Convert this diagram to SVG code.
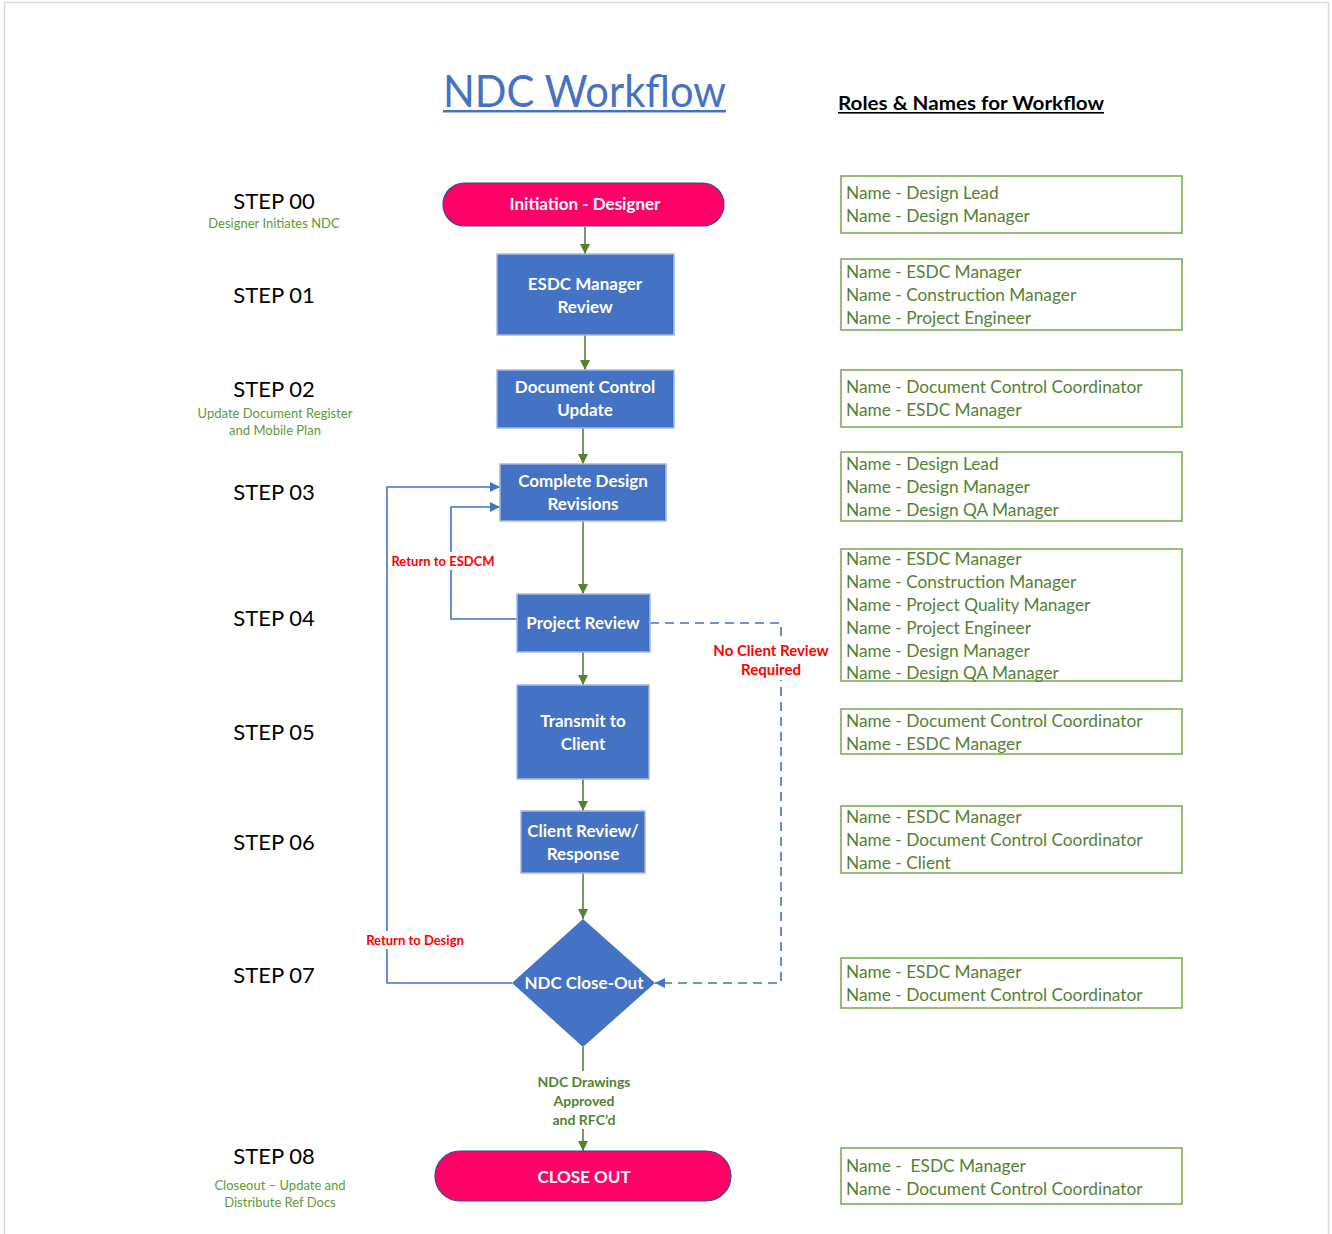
<svg xmlns="http://www.w3.org/2000/svg" width="1332" height="1234" viewBox="0 0 1332 1234">
  <style>
    text { font-family: Lato, "Open Sans", "Liberation Sans", sans-serif; }
    .step { font-size: 22px; fill: #000; text-anchor: middle; }
    .sub { font-size: 13px; fill: #5E9A3A; text-anchor: middle; }
    .proc { fill: #4472C4; stroke: #A4B8E0; stroke-width: 1.5; }
    .term { fill: #FF0066; stroke: #2F4F8F; stroke-width: 1.2; }
    .lbl { font-size: 17px; font-weight: bold; fill: #fff; text-anchor: middle; }
    .role { fill: #fff; stroke: #70AD47; stroke-width: 1.5; }
    .rtxt { font-size: 17.3px; fill: #548235; }
    .flow { fill: none; stroke: #548235; stroke-width: 1.6; }
    .loop { fill: none; stroke: #4472C4; stroke-width: 1.6; }
    .dash { fill: none; stroke: #4472C4; stroke-width: 1.6; stroke-dasharray: 9 6; }
    .red { font-size: 13px; font-weight: bold; fill: #FF0000; text-anchor: middle; }
    .red.big { font-size: 15px; }
    .grn { font-size: 14px; font-weight: bold; fill: #548235; text-anchor: middle; }
    .knock { fill: #fff; }
  </style>
  <defs>
    <marker id="ag" viewBox="0 0 10 10" refX="10" refY="5" markerWidth="10" markerHeight="10" markerUnits="userSpaceOnUse" orient="auto">
      <path d="M0,0 L10,5 L0,10 z" fill="#548235"/>
    </marker>
    <marker id="ab" viewBox="0 0 10 10" refX="10" refY="5" markerWidth="10" markerHeight="10" markerUnits="userSpaceOnUse" orient="auto">
      <path d="M0,0 L10,5 L0,10 z" fill="#4472C4"/>
    </marker>
  </defs>

  <rect width="1332" height="1234" fill="#fff"/>
  <!-- page frame -->
  <path d="M4.5,1234 V2.5 H1328.5 V1234" fill="none" stroke="#D9D9D9" stroke-width="1.5"/>

  <!-- headings -->
  <g id="title">
    <text x="443" y="107" font-size="44" fill="#4472C4" textLength="283" lengthAdjust="spacingAndGlyphs">NDC Workflow</text>
    <rect x="443" y="110" width="283" height="2.5" fill="#4472C4"/>
  </g>
  <g id="roles-heading">
    <text x="838" y="110" font-size="19" font-weight="bold" fill="#000" textLength="266" lengthAdjust="spacingAndGlyphs">Roles &amp; Names for Workflow</text>
    <rect x="838" y="112" width="266" height="1.6" fill="#000"/>
  </g>

  <!-- step column -->
  <g id="steps">
    <text class="step" x="274" y="209">STEP 00</text>
    <text class="sub" x="274" y="228">Designer Initiates NDC</text>
    <text class="step" x="274" y="303">STEP 01</text>
    <text class="step" x="274" y="397">STEP 02</text>
    <text class="sub" x="275" y="418">Update Document Register</text>
    <text class="sub" x="275" y="435">and Mobile Plan</text>
    <text class="step" x="274" y="500">STEP 03</text>
    <text class="step" x="274" y="626">STEP 04</text>
    <text class="step" x="274" y="740">STEP 05</text>
    <text class="step" x="274" y="850">STEP 06</text>
    <text class="step" x="274" y="983">STEP 07</text>
    <text class="step" x="274" y="1164">STEP 08</text>
    <text class="sub" x="280" y="1190">Closeout – Update and</text>
    <text class="sub" x="280" y="1207">Distribute Ref Docs</text>
  </g>

  <!-- connectors -->
  <g id="connectors">
    <line class="flow" x1="585" y1="227" x2="585" y2="254" marker-end="url(#ag)"/>
    <line class="flow" x1="585" y1="335" x2="585" y2="370" marker-end="url(#ag)"/>
    <line class="flow" x1="583" y1="428" x2="583" y2="464" marker-end="url(#ag)"/>
    <line class="flow" x1="583" y1="521" x2="583" y2="594" marker-end="url(#ag)"/>
    <line class="flow" x1="583" y1="652" x2="583" y2="685" marker-end="url(#ag)"/>
    <line class="flow" x1="583" y1="779" x2="583" y2="811" marker-end="url(#ag)"/>
    <line class="flow" x1="583" y1="873" x2="583" y2="919" marker-end="url(#ag)"/>
    <line class="flow" x1="583" y1="1047" x2="583" y2="1071"/>
    <line class="flow" x1="583" y1="1129" x2="583" y2="1151" marker-end="url(#ag)"/>
    <text class="grn" x="584" y="1087">NDC Drawings</text>
    <text class="grn" x="584" y="1106">Approved</text>
    <text class="grn" x="584" y="1125">and RFC’d</text>

    <!-- return to design -->
    <path class="loop" d="M512,983 H387 V487 H500" marker-end="url(#ab)"/>
    <rect class="knock" x="364" y="931" width="102" height="18"/>
    <text class="red" x="415" y="945">Return to Design</text>
    <!-- return to ESDCM -->
    <path class="loop" d="M517,619 H451 V507 H500" marker-end="url(#ab)"/>
    <rect class="knock" x="391" y="552" width="105" height="18"/>
    <text class="red" x="443" y="566">Return to ESDCM</text>
    <!-- skip client review -->
    <path class="dash" d="M650,623 H781 V983 H655" marker-end="url(#ab)"/>
    <rect class="knock" x="713" y="639" width="116" height="41"/>
    <text class="red big" x="771" y="656">No Client Review</text>
    <text class="red big" x="771" y="675">Required</text>
  </g>

  <!-- flow nodes -->
  <g id="n-initiation">
    <rect class="term" x="443" y="183" width="281" height="43" rx="21.5"/>
    <text class="lbl" x="585" y="210">Initiation - Designer</text>
  </g>
  <g id="n-esdc-review">
    <rect class="proc" x="497" y="254" width="177" height="81"/>
    <text class="lbl" x="585" y="290">ESDC Manager</text>
    <text class="lbl" x="585" y="313">Review</text>
  </g>
  <g id="n-doc-control">
    <rect class="proc" x="497" y="370" width="177" height="58"/>
    <text class="lbl" x="585" y="393">Document Control</text>
    <text class="lbl" x="585" y="416">Update</text>
  </g>
  <g id="n-design-revisions">
    <rect class="proc" x="500" y="464" width="166" height="57"/>
    <text class="lbl" x="583" y="487">Complete Design</text>
    <text class="lbl" x="583" y="510">Revisions</text>
  </g>
  <g id="n-project-review">
    <rect class="proc" x="517" y="594" width="133" height="58"/>
    <text class="lbl" x="583" y="629">Project Review</text>
  </g>
  <g id="n-transmit">
    <rect class="proc" x="517" y="685" width="132" height="94"/>
    <text class="lbl" x="583" y="727">Transmit to</text>
    <text class="lbl" x="583" y="750">Client</text>
  </g>
  <g id="n-client-review">
    <rect class="proc" x="521" y="811" width="124" height="62"/>
    <text class="lbl" x="583" y="837">Client Review/</text>
    <text class="lbl" x="583" y="860">Response</text>
  </g>
  <g id="n-closeout-decision">
    <polygon points="583,919 655,983 583,1047 512,983" fill="#4472C4"/>
    <text class="lbl" x="584" y="989">NDC Close-Out</text>
  </g>
  <g id="n-close-out">
    <rect class="term" x="435" y="1151" width="296" height="50" rx="25"/>
    <text class="lbl" x="584" y="1183">CLOSE OUT</text>
  </g>

  <!-- roles column -->
  <g id="r-00">
    <rect class="role" x="841" y="176" width="341" height="57"/>
    <text class="rtxt" x="846" y="199">Name - Design Lead</text>
    <text class="rtxt" x="846" y="222">Name - Design Manager</text>
  </g>
  <g id="r-01">
    <rect class="role" x="841" y="259" width="341" height="71"/>
    <text class="rtxt" x="846" y="278">Name - ESDC Manager</text>
    <text class="rtxt" x="846" y="301">Name - Construction Manager</text>
    <text class="rtxt" x="846" y="324">Name - Project Engineer</text>
  </g>
  <g id="r-02">
    <rect class="role" x="841" y="370" width="341" height="57"/>
    <text class="rtxt" x="846" y="393">Name - Document Control Coordinator</text>
    <text class="rtxt" x="846" y="416">Name - ESDC Manager</text>
  </g>
  <g id="r-03">
    <rect class="role" x="841" y="452" width="341" height="69"/>
    <text class="rtxt" x="846" y="470">Name - Design Lead</text>
    <text class="rtxt" x="846" y="493">Name - Design Manager</text>
    <text class="rtxt" x="846" y="516">Name - Design QA Manager</text>
  </g>
  <g id="r-04">
    <rect class="role" x="841" y="549" width="341" height="132"/>
    <text class="rtxt" x="846" y="565">Name - ESDC Manager</text>
    <text class="rtxt" x="846" y="588">Name - Construction Manager</text>
    <text class="rtxt" x="846" y="611">Name - Project Quality Manager</text>
    <text class="rtxt" x="846" y="634">Name - Project Engineer</text>
    <text class="rtxt" x="846" y="657">Name - Design Manager</text>
    <text class="rtxt" x="846" y="679">Name - Design QA Manager</text>
  </g>
  <g id="r-05">
    <rect class="role" x="841" y="709" width="341" height="45"/>
    <text class="rtxt" x="846" y="727">Name - Document Control Coordinator</text>
    <text class="rtxt" x="846" y="750">Name - ESDC Manager</text>
  </g>
  <g id="r-06">
    <rect class="role" x="841" y="806" width="341" height="67"/>
    <text class="rtxt" x="846" y="823">Name - ESDC Manager</text>
    <text class="rtxt" x="846" y="846">Name - Document Control Coordinator</text>
    <text class="rtxt" x="846" y="869">Name - Client</text>
  </g>
  <g id="r-07">
    <rect class="role" x="841" y="958" width="341" height="50"/>
    <text class="rtxt" x="846" y="978">Name - ESDC Manager</text>
    <text class="rtxt" x="846" y="1001">Name - Document Control Coordinator</text>
  </g>
  <g id="r-08">
    <rect class="role" x="841" y="1148" width="341" height="56"/>
    <text class="rtxt" x="846" y="1172" xml:space="preserve">Name -  ESDC Manager</text>
    <text class="rtxt" x="846" y="1195">Name - Document Control Coordinator</text>
  </g>
</svg>
